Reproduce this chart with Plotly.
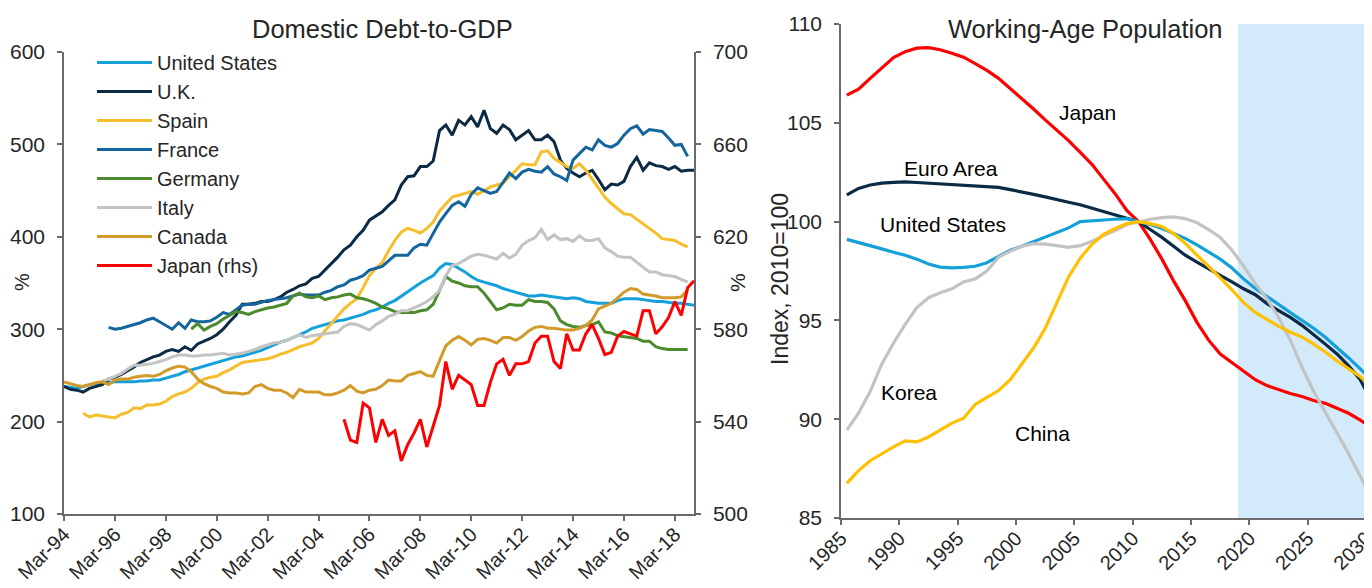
import pandas as pd
import plotly.graph_objects as go

# ---------------- Domestic Debt-to-GDP (quarterly, %) ----------------
quarter_first = "Mar-94"
quarter_last = "Dec-18"

us_start = "Mar-94"
us_debt = [238, 237, 236, 238, 240, 241, 242, 242, 243, 243, 243, 243, 244, 244, 245, 245,
           247, 249, 251, 254, 256, 258, 260, 262, 264, 266, 268, 270, 271, 273, 275, 277,
           280, 283, 286, 288, 291, 294, 297, 301, 303, 305, 307, 309, 310, 312, 314, 316,
           319, 321, 324, 328, 331, 336, 341, 346, 350, 354, 358, 366, 371, 370, 366, 362,
           357, 353, 351, 349, 347, 344, 342, 340, 338, 336, 336, 337, 336, 335, 334, 333,
           334, 333, 330, 329, 328, 328, 328, 331, 333, 333, 333, 332, 331, 330, 330, 329,
           328, 328, 327, 326]

uk_start = "Mar-94"
uk_debt = [238, 235, 234, 232, 236, 238, 240, 246, 248, 251, 255, 259, 264, 267, 270, 272,
           276, 278, 276, 281, 277, 284, 287, 290, 294, 300, 308, 315, 327, 327, 328, 330,
           330, 332, 335, 340, 343, 347, 349, 355, 357, 364, 372, 378, 386, 391, 400, 407,
           418, 423, 427, 434, 440, 456, 465, 466, 476, 476, 482, 515, 521, 510, 526, 521,
           530, 519, 537, 517, 512, 521, 516, 505, 510, 515, 505, 505, 510, 503, 483, 474,
           469, 465, 469, 472, 462, 451, 457, 456, 460, 476, 486, 472, 480, 477, 476, 473,
           476, 471, 472, 472]

spain_start = "Dec-94"
spain_debt = [209, 205, 207, 206, 205, 204, 208, 210, 215, 214, 218, 218, 219, 222, 227, 230,
              232, 236, 242, 246, 248, 249, 253, 256, 260, 264, 265, 266, 267, 268, 270, 273,
              275, 278, 281, 283, 285, 290, 298, 306, 314, 322, 328, 333, 345, 358, 366, 372,
              385, 396, 405, 409, 407, 404, 409, 416, 428, 436, 443, 445, 447, 449, 446, 450,
              454, 456, 458, 465, 472, 479, 478, 478, 492, 493, 485, 480, 476, 474, 479, 472,
              462, 452, 443, 436, 430, 425, 424, 419, 414, 409, 404, 398, 397, 396, 392, 389]

france_start = "Dec-95"
france_debt = [302, 300, 301, 303, 305, 307, 310, 312, 308, 304, 300, 307, 301, 310, 308, 308,
               309, 313, 318, 316, 321, 326, 327, 327, 329, 331, 332, 333, 334, 336, 338, 337,
               337, 337, 340, 342, 346, 348, 353, 355, 358, 364, 366, 368, 374, 380, 380, 380,
               388, 392, 391, 404, 416, 425, 434, 438, 433, 446, 453, 450, 447, 449, 459, 469,
               463, 470, 473, 471, 470, 476, 468, 465, 461, 483, 490, 497, 494, 505, 499, 497,
               501, 510, 517, 520, 511, 516, 515, 514, 507, 499, 500, 487]

germany_start = "Mar-99"
germany_debt = [300, 306, 299, 303, 306, 311, 315, 319, 318, 316, 319, 321, 323, 324, 326, 328,
                336, 339, 335, 334, 336, 332, 334, 335, 337, 338, 334, 333, 331, 328, 324, 322,
                319, 318, 318, 318, 320, 321, 327, 343, 357, 352, 350, 347, 346, 346, 339, 330,
                321, 323, 327, 326, 326, 332, 330, 330, 329, 322, 309, 305, 303, 302, 304, 305,
                308, 297, 296, 293, 292, 291, 290, 287, 287, 281, 279, 278, 278, 278, 278]

italy_start = "Sep-95"
italy_debt = [244, 246, 249, 252, 257, 261, 261, 262, 263, 265, 267, 270, 272, 272, 271, 271,
              272, 272, 273, 274, 272, 273, 274, 276, 278, 281, 283, 285, 286, 288, 291, 294,
              291, 293, 294, 295, 296, 297, 303, 306, 305, 302, 299, 305, 309, 314, 316, 320,
              320, 323, 326, 330, 335, 342, 358, 369, 371, 375, 379, 381, 380, 378, 376, 382,
              377, 381, 391, 396, 399, 408, 397, 402, 397, 398, 395, 401, 396, 396, 398, 388,
              384, 379, 378, 378, 372, 367, 362, 362, 359, 358, 357, 354, 351]

canada_start = "Mar-94"
canada_debt = [243, 241, 239, 238, 240, 242, 243, 240, 245, 246, 246, 248, 249, 250, 249, 251,
               255, 258, 260, 259, 254, 246, 241, 238, 236, 232, 231, 231, 230, 231, 238, 240,
               236, 234, 234, 231, 226, 235, 232, 232, 232, 229, 229, 231, 234, 239, 233, 231,
               234, 235, 239, 245, 244, 244, 250, 252, 254, 250, 249, 266, 282, 288, 292, 288,
               283, 289, 290, 288, 285, 291, 291, 288, 292, 298, 302, 303, 301, 301, 300, 299,
               299, 301, 304, 310, 322, 325, 328, 334, 340, 344, 343, 338, 337, 336, 334, 334,
               334, 335, 342]

japan_start = "Mar-05"
japan_debt_rhs = [541, 532, 531, 548, 546, 531, 541, 534, 536, 523, 530, 535, 541, 529, 538, 547,
                  566, 554, 560, 558, 556, 547, 547, 557, 565, 567, 560, 565, 565, 566, 574, 577,
                  577, 566, 563, 578, 571, 571, 578, 582, 576, 569, 570, 577, 579, 578, 577, 588,
                  588, 578, 581, 585, 592, 586, 598, 601]

debt_names = ["United States", "U.K.", "Spain", "France", "Germany", "Italy", "Canada", "Japan (rhs)"]
debt_colors = ["#14A0D8", "#0B2A45", "#F6BE2C", "#13659E", "#4B8A2D", "#C3C3C3", "#D29B29", "#FF0000"]

# ---------------- Working-Age Population (index, 2010=100) ----------------
pop_years = list(range(1985, 2031))
pop_japan = [106.4, 106.7, 107.25, 107.75, 108.3, 108.6, 108.78, 108.8, 108.7, 108.52, 108.32, 108.0,
             107.65, 107.25, 106.75, 106.25, 105.7, 105.15, 104.65, 104.1, 103.5, 102.9, 102.15,
             101.4, 100.55, 100.0, 99.1, 98.1, 97.0, 96.0, 94.9, 94.0, 93.3, 92.85, 92.4, 92.0,
             91.7, 91.5, 91.3, 91.15, 90.95, 90.8, 90.55, 90.3, 89.95, 89.55]
pop_euro = [101.35, 101.68, 101.85, 101.95, 101.99, 102.01, 101.98, 101.94, 101.91, 101.89, 101.86,
            101.82, 101.78, 101.73, 101.62, 101.52, 101.38, 101.25, 101.1, 100.98, 100.85, 100.68,
            100.52, 100.36, 100.18, 100.0, 99.6, 99.2, 98.75, 98.3, 97.95, 97.6, 97.28, 96.95,
            96.6, 96.3, 95.85, 95.5, 95.15, 94.75, 94.3, 93.8, 93.3, 92.7, 92.0, 90.85]
pop_us = [99.1, 98.95, 98.8, 98.62, 98.45, 98.3, 98.1, 97.85, 97.7, 97.66, 97.68, 97.74, 97.92,
          98.25, 98.55, 98.75, 98.98, 99.22, 99.42, 99.68, 100.0, 100.02, 100.08, 100.12, 100.15,
          100.0, 99.85, 99.65, 99.42, 99.15, 98.82, 98.48, 98.1, 97.65, 97.1, 96.62, 96.2, 95.8,
          95.4, 95.0, 94.6, 94.15, 93.65, 93.1, 92.55, 91.95]
pop_korea = [89.45, 90.3, 91.4, 92.8, 93.85, 94.8, 95.65, 96.15, 96.4, 96.6, 96.95, 97.1, 97.5,
             98.2, 98.5, 98.75, 98.88, 98.86, 98.78, 98.7, 98.78, 99.0, 99.3, 99.55, 99.85, 100.0,
             100.12, 100.2, 100.24, 100.15, 99.95, 99.6, 99.2, 98.55, 97.75, 96.85, 96.1, 95.15,
             94.0, 92.64, 91.4, 90.35, 89.3, 88.25, 87.1, 86.0]
pop_china = [86.75, 87.4, 87.9, 88.25, 88.6, 88.9, 88.85, 89.1, 89.45, 89.8, 90.05, 90.75, 91.1,
             91.45, 92.0, 92.8, 93.6, 94.6, 95.9, 97.2, 98.15, 98.85, 99.35, 99.65, 99.9, 100.0,
             99.9, 99.75, 99.4, 98.9, 98.3, 97.75, 97.15, 96.55, 95.9, 95.4, 95.05, 94.7, 94.4,
             94.16, 93.8, 93.4, 92.95, 92.55, 92.15, 91.6]
pop_names = ["Japan", "Euro Area", "United States", "Korea", "China"]
pop_colors = ["#FF0000", "#0B2A45", "#14A0D8", "#C3C3C3", "#FFC000"]
forecast_start = 2019
pop_axis_end = 2030.5

FONT = "Liberation Sans, Arial, sans-serif"
TXT = "#262626"
AX = "#6b6b6b"

# page has an 8px body margin, so the figure is sized to fill the rest of the window
PAGE_OFF = 8
W, H = 1372 - PAGE_OFF, 588 - PAGE_OFF


def px(x):
    return (x - PAGE_OFF) / W


def py(y):
    return 1 - (y - PAGE_OFF) / H


quarters = pd.date_range(pd.to_datetime(quarter_first, format="%b-%y"),
                         pd.to_datetime(quarter_last, format="%b-%y"), freq="3MS")


def quarter_x(start_label, n):
    i = quarters.get_loc(pd.to_datetime(start_label, format="%b-%y"))
    return quarters[i:i + n]


fig = go.Figure()
debt_series = [(us_start, us_debt), (uk_start, uk_debt), (spain_start, spain_debt),
               (france_start, france_debt), (germany_start, germany_debt),
               (italy_start, italy_debt), (canada_start, canada_debt)]
for (start, vals), name, col in zip(debt_series, debt_names[:-1], debt_colors[:-1]):
    fig.add_trace(go.Scatter(x=quarter_x(start, len(vals)), y=vals, name=name, mode="lines",
                             line=dict(color=col, width=3), xaxis="x", yaxis="y"))
fig.add_trace(go.Scatter(x=quarter_x(japan_start, len(japan_debt_rhs)), y=japan_debt_rhs,
                         name=debt_names[-1], mode="lines",
                         line=dict(color=debt_colors[-1], width=3), xaxis="x", yaxis="y3"))

pop_x = [y + 0.5 for y in pop_years]  # annual values plotted mid-year
for vals, name, col in zip([pop_japan, pop_euro, pop_us, pop_korea, pop_china], pop_names, pop_colors):
    fig.add_trace(go.Scatter(x=pop_x, y=vals, name=name, mode="lines", showlegend=False,
                             line=dict(color=col, width=3.2), xaxis="x2", yaxis="y2"))

axis_common = dict(showline=True, linecolor=AX, linewidth=1.5, ticks="outside", ticklen=5,
                   tickcolor=AX, tickwidth=1.5, showgrid=False, zeroline=False, automargin=False)
y_common = dict(axis_common, ticklabelstandoff=8, tickfont=dict(family=FONT, size=21, color=TXT))
x_common = dict(axis_common, ticklabelstandoff=-6, ticklabeloverflow="allow", tickangle=-45,
                tickfont=dict(family=FONT, size=20, color=TXT))

fig.update_layout(
    width=W, height=H, autosize=False,
    margin=dict(l=0, r=0, t=0, b=0),
    paper_bgcolor="white", plot_bgcolor="white",
    font=dict(family=FONT, color=TXT),
    xaxis=dict(domain=[px(64), px(694)], anchor="y", type="date",
               range=[quarters[0], quarters[-1]], tick0=quarters[0], dtick="M24",
               tickformat="%b-%y", **x_common),
    yaxis=dict(domain=[py(514), py(52)], anchor="x", range=[100, 600], dtick=100, **y_common),
    yaxis3=dict(overlaying="y", side="right", anchor="x", range=[500, 700], dtick=40,
                tick0=500, **y_common),
    xaxis2=dict(domain=[px(841), 1.0], anchor="y2", range=[pop_years[0], pop_axis_end],
                dtick=5, tick0=pop_years[0], **x_common),
    yaxis2=dict(domain=[py(518), py(24)], anchor="x2", range=[85, 110], dtick=5, **y_common),
    legend=dict(x=px(92), y=py(43), xanchor="left", yanchor="top",
                bgcolor="rgba(0,0,0,0)", font=dict(family=FONT, size=20, color=TXT),
                itemwidth=55, tracegroupgap=0),
    shapes=[dict(type="rect", xref="x2", yref="y2 domain", x0=forecast_start, x1=pop_axis_end,
                 y0=0, y1=1, fillcolor="#D3EAFA", line=dict(width=0), layer="below")],
)

for txt, xp, yp in [("Domestic Debt-to-GDP", 383, 29), ("Working-Age Population", 1085, 29)]:
    fig.add_annotation(text=txt, x=px(xp), y=py(yp), xref="paper", yref="paper",
                       showarrow=False, xanchor="center", yanchor="middle",
                       font=dict(family=FONT, size=25.5, color=TXT))
for txt, xp, yp, sz in [("%", 22, 282, 20), ("%", 737, 283, 21), ("Index, 2010=100", 780, 279, 23)]:
    fig.add_annotation(text=txt, x=px(xp), y=py(yp), xref="paper", yref="paper",
                       showarrow=False, textangle=-90, xanchor="center", yanchor="middle",
                       font=dict(family=FONT, size=sz, color=TXT))

pop_labels = [("Japan", 2006.15, 105.54), ("Euro Area", 1994.4, 102.7),
              ("United States", 1993.7, 99.87), ("Korea", 1990.8, 91.36), ("China", 2002.3, 89.28)]
for txt, xv, yv in pop_labels:
    fig.add_annotation(text=txt, x=xv, y=yv, xref="x2", yref="y2", showarrow=False,
                       xanchor="center", yanchor="middle",
                       font=dict(family=FONT, size=21, color="#000000"))

fig.write_html("out.html")
